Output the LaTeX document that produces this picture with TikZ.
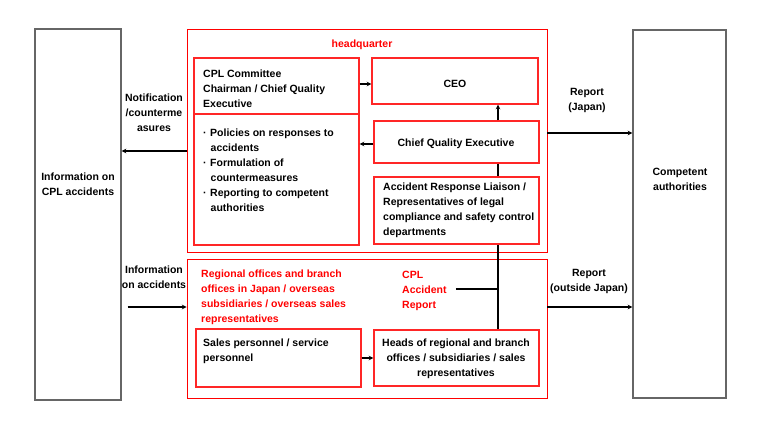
\documentclass[tikz,border=0pt]{standalone}
\usepackage{fontspec}
\setmainfont{Liberation Sans}
\newcommand{\bul}{\makebox[7pt][l]{\textperiodcentered}}
\newcommand{\ind}{\hspace*{7.5pt}}
\tikzset{
  frame/.style={draw=red, line width=0.9pt, inner sep=0pt},
  box/.style={draw=red!85, line width=1.1pt, fill=white, inner sep=0pt},
  side/.style={draw=black!60, line width=1.2pt, fill=white, inner sep=0pt},
  txt/.style={inner sep=0pt, font=\bfseries\fontsize{10.5}{15}\selectfont},
  redtxt/.style={txt, text=red},
  arr/.style={->, line width=1.1pt}
}
\begin{document}
\begin{tikzpicture}[x=1pt, y=-1pt, >=stealth]
  \useasboundingbox (0,0) rectangle (759,440);

  % Outer columns
  \node[side, minimum width=86pt, minimum height=371pt] (info) at (78,214.5) {};
  \node[side, minimum width=93pt, minimum height=368pt] (auth) at (679.5,214) {};
  \node[txt, align=center] (infotxt) at (78,184) {Information on\\CPL accidents};
  \node[txt, align=center] (authtxt) at (680,179) {Competent\\authorities};

  % Headquarter and regional frames
  \node[frame, minimum width=360pt, minimum height=223pt] (hq) at (367,140.5) {};
  \node[frame, minimum width=360pt, minimum height=139pt] (region) at (367,328.5) {};
  \node[redtxt] (hqtxt) at (362,45) {headquarter};

  % Reporting line behind the boxes
  \coordinate (jn) at (498,289);
  \node[redtxt, align=left, anchor=north west] (rpt) at (402,270.5) {CPL\\Accident\\Report};
  \draw[line width=1.3pt] (498,330) -- (498,163);
  \draw[line width=1.3pt] ([xshift=9pt]rpt.east |- jn) -- (jn);

  % Headquarter boxes
  \node[box, minimum width=165pt, minimum height=187pt] (cplc) at (276.5,151.5) {};
  \draw[red!85, line width=1.1pt] (cplc.west |- 0,114) -- (cplc.east |- 0,114);
  \node[txt, align=left, anchor=north west] (cplctxt) at (203,69.5)
    {CPL Committee\\Chairman / Chief Quality\\Executive};
  \node[txt, align=left, anchor=north west] (policy) at (203,128.5)
    {\bul Policies on responses to\\\ind accidents\\\bul Formulation of\\\ind countermeasures\\\bul Reporting to competent\\\ind authorities};
  \node[box, minimum width=166pt, minimum height=46pt] (ceo) at (455,81) {};
  \node[txt] (ceotxt) at (455,84) {CEO};
  \node[box, minimum width=165pt, minimum height=42pt] (cqe) at (456.5,142) {};
  \node[txt] (cqetxt) at (456,144) {Chief Quality Executive};
  \node[box, minimum width=165pt, minimum height=67pt] (liaison) at (456.5,210.5) {};
  \node[txt, align=left, anchor=north west] (liaisontxt) at (383,182.5)
    {Accident Response Liaison /\\Representatives of legal\\compliance and safety control\\departments};

  % Regional boxes
  \node[redtxt, align=left, anchor=north west] (regtxt) at (201,269.5)
    {Regional offices and branch\\offices in Japan / overseas\\subsidiaries / overseas sales\\representatives};
  \node[box, minimum width=165pt, minimum height=58pt] (sales) at (278.5,358) {};
  \node[txt, align=left, anchor=north west] (salestxt) at (203,338.5)
    {Sales personnel / service\\personnel};
  \node[box, minimum width=165pt, minimum height=56pt] (heads) at (456.5,358) {};
  \node[txt, align=center] (headstxt) at (456,359)
    {Heads of regional and branch\\offices / subsidiaries / sales\\representatives};

  % Arrows inside
  \draw[arr] (cplc.east |- 0,84) -- (ceo.west |- 0,84);
  \draw[arr] (cqe.north -| jn) -- (ceo.south -| jn);
  \draw[arr] (cqe.west |- 0,144) -- (cplc.east |- 0,144);
  \draw[arr] (sales.east) -- (heads.west);

  % Arrows to the sides
  \draw[arr] (hq.west |- 0,151) -- (info.east |- 0,151);
  \draw[arr] ([xshift=6pt]info.east |- 0,307) -- (region.west |- 0,307);
  \draw[arr] (hq.east |- 0,133) -- (auth.west |- 0,133);
  \draw[arr] (region.east |- 0,307) -- (auth.west |- 0,307);
  \node[txt, align=center] (notif) at (154,113) {Notification\\/counterme\\asures};
  \node[txt, align=center] (infoacc) at (154,277.5) {Information\\on accidents};
  \node[txt, align=center] (repjp) at (587,100.5) {Report\\(Japan)};
  \node[txt, align=center] (repout) at (589,281.5) {Report\\(outside Japan)};
\end{tikzpicture}
\end{document}
